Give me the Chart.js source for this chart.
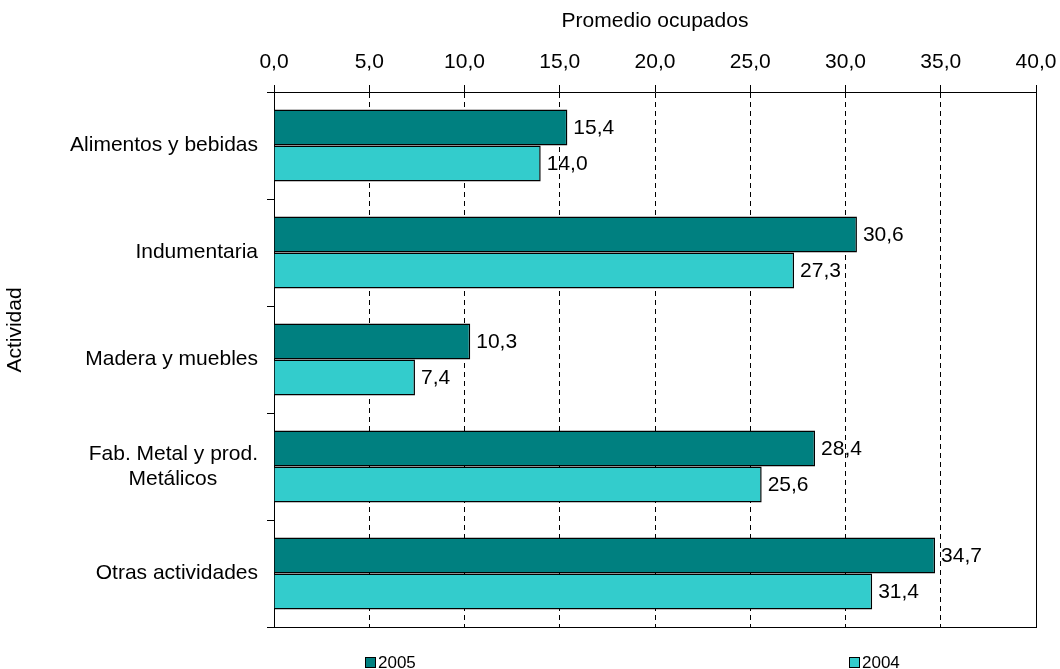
<!DOCTYPE html>
<html><head><meta charset="utf-8">
<script src="https://cdn.jsdelivr.net/npm/chart.js@4"></script>
<style>html,body{margin:0;padding:0;background:#fff}#wrap{width:1060px;height:669px;position:relative}</style>
</head><body><div id="wrap"><canvas id="c" width="1060" height="669"></canvas></div>
<script>
const categories = ["Alimentos y bebidas", "Indumentaria", "Madera y muebles", ["Fab. Metal y prod.", "Metálicos       "], "Otras actividades"];
const series2005 = [15.4, 30.6, 10.3, 28.4, 34.7];
const series2004 = [14.0, 27.3, 7.4, 25.6, 31.4];
const seriesNames = ["2005", "2004"];
const xMin = 0, xMax = 40, xStep = 5;
const xTitle = "Promedio ocupados";
const yTitle = "Actividad";

const FONT = "'Liberation Sans', Arial, sans-serif";
const FS = 21;
const fmt = v => Number(v).toFixed(1).replace('.', ',');

const extras = {
  id: 'extras',
  afterDatasetsDraw(chart) {
    const ctx = chart.ctx;
    ctx.save();
    ctx.font = FS + "px " + FONT;
    ctx.fillStyle = '#000';
    ctx.textAlign = 'left';
    ctx.textBaseline = 'middle';
    chart.data.datasets.forEach((ds, i) => {
      chart.getDatasetMeta(i).data.forEach((el, j) => {
        ctx.fillText(fmt(ds.data[j]), el.x + 6, el.y + 1);
      });
    });
    ctx.restore();
  },
  afterDraw(chart) {
    const ctx = chart.ctx, a = chart.chartArea;
    ctx.save();
    ctx.strokeStyle = '#000';
    ctx.lineWidth = 1;
    ctx.beginPath();
    ctx.moveTo(Math.round(a.right) + 0.5, Math.round(a.top));
    ctx.lineTo(Math.round(a.right) + 0.5, Math.round(a.bottom) + 1);
    ctx.moveTo(Math.round(a.left) - 7, Math.round(a.bottom) + 0.5);
    ctx.lineTo(Math.round(a.right) + 1, Math.round(a.bottom) + 0.5);
    ctx.stroke();
    // y axis title
    ctx.fillStyle = '#000';
    ctx.font = FS + "px " + FONT;
    ctx.textAlign = 'center';
    ctx.textBaseline = 'middle';
    ctx.translate(15, 330);
    ctx.rotate(-Math.PI / 2);
    ctx.fillText(yTitle, 0, 0);
    ctx.restore();
    // legend
    const pos = [365, 849];
    ctx.save();
    ctx.font = "17px " + FONT;
    ctx.textBaseline = 'middle';
    ctx.textAlign = 'left';
    chart.data.datasets.forEach((ds, i) => {
      const x = pos[i], y = 657;
      ctx.fillStyle = ds.backgroundColor;
      ctx.fillRect(x, y, 11, 11);
      ctx.strokeStyle = '#000';
      ctx.lineWidth = 1;
      ctx.strokeRect(x + 0.5, y + 0.5, 10, 10);
      ctx.fillStyle = '#000';
      ctx.fillText(ds.label, x + 13, y + 6);
    });
    ctx.restore();
  }
};

new Chart(document.getElementById('c'), {
  type: 'bar',
  data: {
    labels: categories,
    datasets: [
      { label: seriesNames[0], data: series2005, backgroundColor: '#008080', borderColor: '#000', borderWidth: 1.5, categoryPercentage: 0.673, barPercentage: 1.0 },
      { label: seriesNames[1], data: series2004, backgroundColor: '#33CCCC', borderColor: '#000', borderWidth: 1.5, categoryPercentage: 0.673, barPercentage: 1.0 }
    ]
  },
  options: {
    indexAxis: 'y',
    responsive: false,
    devicePixelRatio: 1,
    animation: false,
    layout: { padding: { left: 0, right: 24, top: 0, bottom: 42 } },
    plugins: { legend: { display: false }, tooltip: { enabled: false } },
    scales: {
      x: {
        position: 'top',
        min: xMin, max: xMax,
        afterFit(s) { s.height = 92; s.paddingLeft = 0; s.paddingRight = 0; },
        ticks: { stepSize: xStep, callback: v => fmt(v), font: { size: FS, family: FONT }, color: '#000', padding: 10, maxRotation: 0 },
        grid: {
          color: c => (c.index === 0 || c.index === 8) ? 'rgba(0,0,0,0)' : '#000',
          tickColor: '#000', lineWidth: 1, tickLength: 7, drawTicks: true
        },
        border: { display: true, color: '#000', width: 1, dash: [5, 4] },
        title: { display: true, text: xTitle, color: '#000', font: { size: FS, family: FONT }, padding: { top: 9, bottom: 0 } }
      },
      y: {
        afterFit(s) { s.width = 274; s.paddingTop = 0; s.paddingBottom = 0; },
        ticks: { font: { size: FS, family: FONT }, color: '#000', padding: 9 },
        grid: { offset: true, drawOnChartArea: false, drawTicks: true, tickLength: 7, color: '#000', tickColor: '#000' },
        border: { display: true, color: '#000', width: 1 }
      }
    }
  },
  plugins: [extras]
});
</script></body></html>
